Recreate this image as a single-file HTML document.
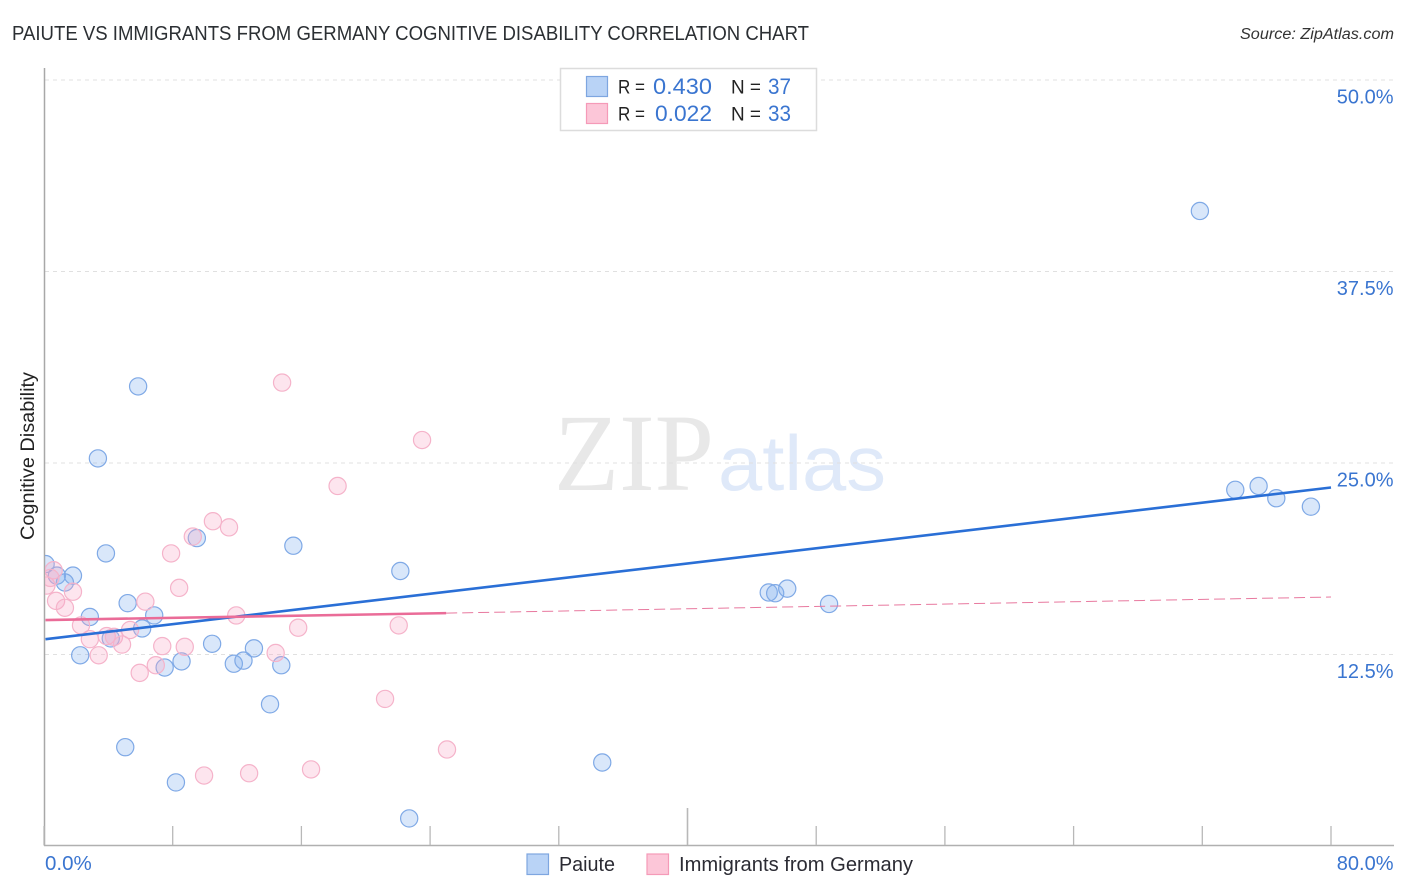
<!DOCTYPE html>
<html lang="en">
<head>
<meta charset="utf-8">
<title>Paiute vs Immigrants from Germany Cognitive Disability Correlation Chart</title>
<style>
html,body{margin:0;padding:0;background:#fff;width:1406px;height:892px;overflow:hidden}
svg{display:block}
text{font-family:"Liberation Sans",sans-serif}
</style>
</head>
<body>
<svg id="chart" width="1406" height="892" viewBox="0 0 1406 892" xmlns="http://www.w3.org/2000/svg">
  <defs><clipPath id="plot-clip"><rect x="45" y="60" width="1349" height="785"/></clipPath></defs>
  <text x="12" y="40" font-size="20" fill="#2b2f33" textLength="797" lengthAdjust="spacingAndGlyphs">PAIUTE VS IMMIGRANTS FROM GERMANY COGNITIVE DISABILITY CORRELATION CHART</text>
  <text x="1394" y="39" font-size="15.5" font-style="italic" fill="#333" text-anchor="end" textLength="154" lengthAdjust="spacingAndGlyphs">Source: ZipAtlas.com</text>
  <g>
    <text x="554" y="490" font-size="110" fill="#e8e8e8" style="font-family:'Liberation Serif',serif" textLength="160" lengthAdjust="spacingAndGlyphs">ZIP</text>
    <text x="718" y="490" font-size="78" fill="#dfe9f9" textLength="168" lengthAdjust="spacingAndGlyphs">atlas</text>
  </g>
  <g id="grid"></g>
  <g id="axes"></g>
  <g id="series-a" clip-path="url(#plot-clip)"></g>
  <g id="series-b" clip-path="url(#plot-clip)"></g>
  <g id="trends"></g>
  <text transform="translate(34,456) rotate(-90)" font-size="19" fill="#222" text-anchor="middle" textLength="168" lengthAdjust="spacingAndGlyphs">Cognitive Disability</text>
  <g>
    <rect x="560.5" y="68.5" width="256" height="62" fill="#fff" stroke="#dcdcdc" stroke-width="1.5"/>
    <rect x="586.5" y="76.5" width="21" height="20" fill="#b9d3f6" stroke="#7ea6e0" stroke-width="1.2"/>
    <rect x="586.5" y="103.5" width="21" height="20" fill="#fcc6d8" stroke="#f59ab8" stroke-width="1.2"/>
    <text x="618" y="93.5" font-size="19" fill="#222" textLength="27" lengthAdjust="spacingAndGlyphs">R =</text>
    <text x="653" y="94" font-size="22" fill="#3a75d0" textLength="59" lengthAdjust="spacingAndGlyphs">0.430</text>
    <text x="731" y="93.5" font-size="19" fill="#222" textLength="30" lengthAdjust="spacingAndGlyphs">N =</text>
    <text x="768" y="94" font-size="22" fill="#3a75d0" textLength="23" lengthAdjust="spacingAndGlyphs">37</text>
    <text x="618" y="120.5" font-size="19" fill="#222" textLength="27" lengthAdjust="spacingAndGlyphs">R =</text>
    <text x="655" y="121" font-size="22" fill="#3a75d0" textLength="57" lengthAdjust="spacingAndGlyphs">0.022</text>
    <text x="731" y="120.5" font-size="19" fill="#222" textLength="30" lengthAdjust="spacingAndGlyphs">N =</text>
    <text x="768" y="121" font-size="22" fill="#3a75d0" textLength="23" lengthAdjust="spacingAndGlyphs">33</text>
  </g>
  <g>
    <rect x="527" y="854" width="21.5" height="20.5" fill="#b9d3f6" stroke="#7ea6e0" stroke-width="1.2"/>
    <text x="559" y="871" font-size="20" fill="#2b2b33" textLength="56" lengthAdjust="spacingAndGlyphs">Paiute</text>
    <rect x="647" y="854" width="21.5" height="20.5" fill="#fcc6d8" stroke="#f59ab8" stroke-width="1.2"/>
    <text x="679" y="871" font-size="20" fill="#2b2b33" textLength="234" lengthAdjust="spacingAndGlyphs">Immigrants from Germany</text>
  </g>
</svg>
<script>
const xTicks = [0, 8, 16, 24, 32, 40, 48, 56, 64, 72, 80];
const xMajorTicks = [40];
const yTicks = [12.5, 25, 37.5, 50];
const yTickLabels = ["12.5%", "25.0%", "37.5%", "50.0%"];
const xEndLabels = ["0.0%", "80.0%"];

const paiuteX = [0.1, 0.8, 1.8, 1.3, 3.85, 3.35, 5.85, 5.2, 2.85, 6.85, 6.1, 4.15, 2.25, 7.5, 8.55, 10.45, 11.8, 12.4, 13.05, 14.75, 14.05, 5.05, 8.2, 9.5, 15.5, 22.15, 22.7, 34.7, 45.05, 45.45, 46.2, 48.8, 71.85, 74.05, 75.5, 76.6, 78.75];
const paiuteY = [18.4, 17.65, 17.65, 17.2, 19.1, 25.3, 30.0, 15.85, 14.95, 15.05, 14.2, 13.55, 12.45, 11.65, 12.05, 13.2, 11.9, 12.1, 12.9, 11.8, 9.25, 6.45, 4.15, 20.1, 19.6, 17.95, 1.8, 5.45, 16.55, 16.5, 16.8, 15.8, 41.45, 23.25, 23.5, 22.7, 22.15];

const germanyX = [0.6, 0.15, 0.4, 0.75, 1.3, 1.8, 2.3, 2.85, 3.4, 3.9, 4.35, 4.85, 5.35, 5.95, 6.3, 6.95, 7.35, 7.9, 8.4, 8.75, 9.25, 10.5, 11.5, 11.95, 9.95, 12.75, 14.4, 15.8, 16.6, 14.8, 18.25, 23.5, 22.05, 21.2, 25.05];
const germanyY = [18.0, 17.0, 17.5, 16.0, 15.55, 16.6, 14.4, 13.5, 12.45, 13.7, 13.65, 13.15, 14.1, 11.3, 15.95, 11.8, 13.05, 19.1, 16.85, 13.0, 20.2, 21.2, 20.8, 15.05, 4.6, 4.75, 12.6, 14.25, 5.0, 30.25, 23.5, 26.5, 14.4, 9.6, 6.3];

const paiuteTrend = [0, 13.5, 80, 23.4];
const germanySolidTrend = [0, 14.75, 25, 15.2];
const germanyDashedTrend = [25, 15.2, 80, 16.25];

const NS = 'http://www.w3.org/2000/svg';
const xPos = v => 44 + v * 16.0875;
const yPos = v => 846 - v * 15.32;

function make(tag, attrs, parent) {
  const el = document.createElementNS(NS, tag);
  for (const k in attrs) el.setAttribute(k, attrs[k]);
  parent.appendChild(el);
  return el;
}

const grid = document.getElementById('grid');
const axes = document.getElementById('axes');

yTicks.forEach((t, i) => {
  const gl = make('line', {x1: 45, x2: 1393, y1: yPos(t), y2: yPos(t), stroke: '#e0e0e0', 'stroke-width': 1, 'stroke-dasharray': '4 4'}, grid);
  
  
  const lb = make('text', {x: 1393.5, y: yPos(t) + 23.5, 'font-size': 20, fill: '#3a75d0', 'text-anchor': 'end'}, axes);
  lb.textContent = yTickLabels[i];
  
  
});

const yAxis = make('line', {x1: 44.5, x2: 44.5, y1: 68, y2: 846, stroke: '#a8a8a8', 'stroke-width': 1.5}, axes);


const xAxis = make('line', {x1: 44, x2: 1394, y1: 845.5, y2: 845.5, stroke: '#b0b0b0', 'stroke-width': 1.5}, axes);



xTicks.forEach(t => {
  const major = xMajorTicks.includes(t);
  const tk = make('line', {x1: xPos(t), x2: xPos(t), y1: major ? 808 : 826, y2: 845, stroke: '#b8b8b8', 'stroke-width': major ? 1.6 : 1.3}, axes);
  
  
});

const x0 = make('text', {x: xPos(xTicks[0]) + 1, y: 870, 'font-size': 20.5, fill: '#3a75d0'}, axes);
x0.textContent = xEndLabels[0];


const x1 = make('text', {x: 1393.5, y: 870, 'font-size': 20, fill: '#3a75d0', 'text-anchor': 'end'}, axes);
x1.textContent = xEndLabels[1];



const groupA = document.getElementById('series-a');
paiuteX.forEach((v, i) => {
  const c = make('circle', {cx: xPos(v), cy: yPos(paiuteY[i]), r: 8.6, fill: 'rgba(130,176,238,0.3)', stroke: '#7fa9e6', 'stroke-width': 1.2}, groupA);
  
  
});

const groupB = document.getElementById('series-b');
germanyX.forEach((v, i) => {
  const c = make('circle', {cx: xPos(v), cy: yPos(germanyY[i]), r: 8.6, fill: 'rgba(248,170,198,0.3)', stroke: '#f5b3ca', 'stroke-width': 1.2}, groupB);
  
  
});

const trends = document.getElementById('trends');
const dashed = make('line', {x1: xPos(germanyDashedTrend[0]), y1: yPos(germanyDashedTrend[1]), x2: xPos(germanyDashedTrend[2]), y2: yPos(germanyDashedTrend[3]), stroke: '#e8799f', 'stroke-width': 1, 'stroke-dasharray': '11 5'}, trends);


const blueLine = make('line', {x1: xPos(paiuteTrend[0]) + 1.5, y1: yPos(paiuteTrend[1]), x2: xPos(paiuteTrend[2]), y2: yPos(paiuteTrend[3]), stroke: '#2a6fd6', 'stroke-width': 2.6}, trends);


const pinkLine = make('line', {x1: xPos(germanySolidTrend[0]) + 1.5, y1: yPos(germanySolidTrend[1]), x2: xPos(germanySolidTrend[2]), y2: yPos(germanySolidTrend[3]), stroke: '#ea6c98', 'stroke-width': 2.6}, trends);


</script>
</body>
</html>
